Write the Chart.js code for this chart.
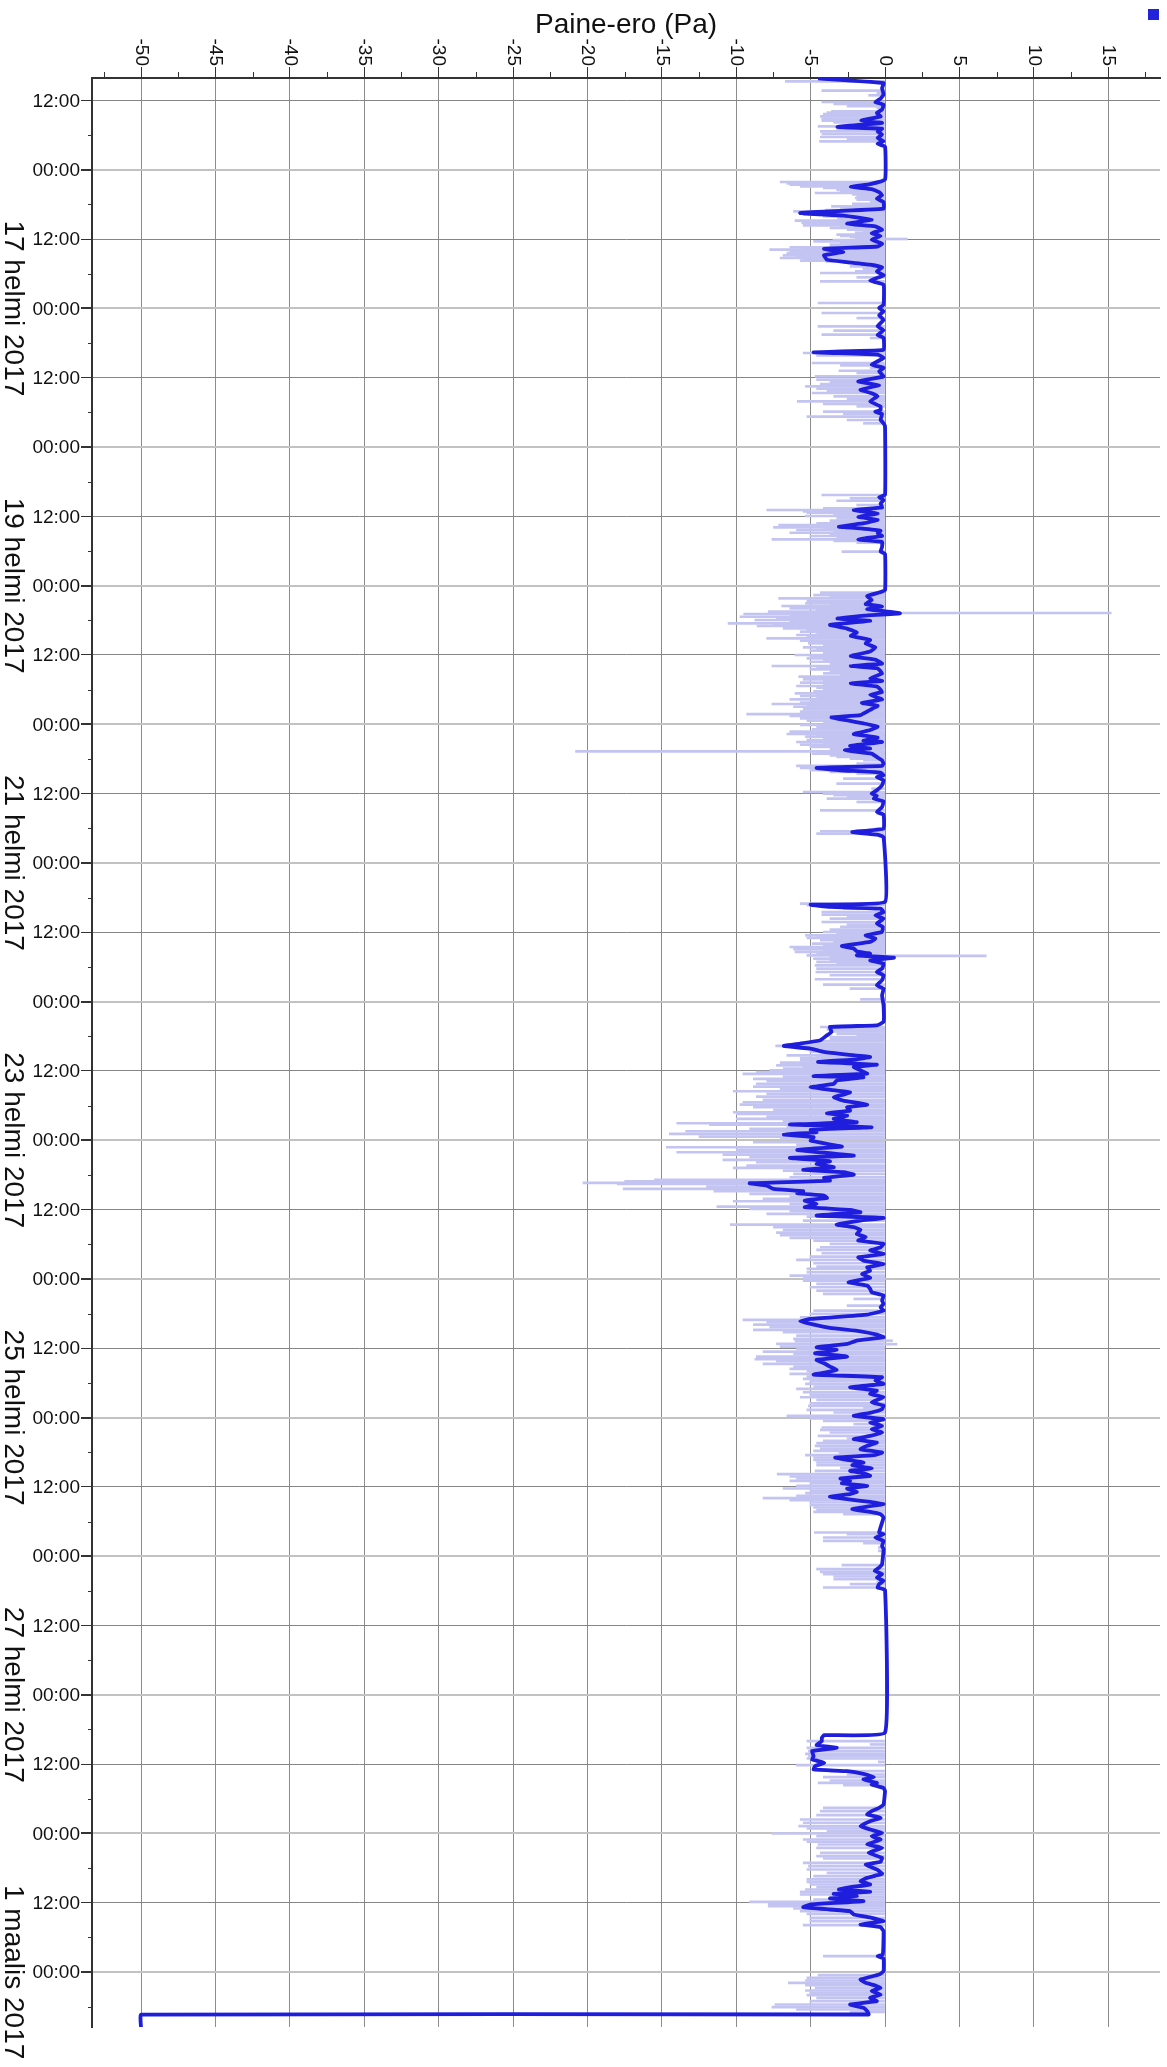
<!DOCTYPE html>
<html><head><meta charset="utf-8">
<script src="https://cdn.jsdelivr.net/npm/chart.js@4.4.1/dist/chart.umd.min.js"></script>
<style>html,body{margin:0;padding:0;background:#fff}#wrap{width:1167px;height:2067px}</style>
</head><body><div id="wrap"><canvas id="c" width="1167" height="2067"></canvas></div>
<script>
// time = hours since 15 Feb 2017 00:00 ; value = pressure difference (Pa)
const smoothPts = [
[8.2,-4.5],[9.0,-0.1],[9.9,-0.2],[11.0,-0.1],[11.7,-0.3],[12.3,-0.65],[12.75,-0.1],[13.6,-0.2],[14.2,-0.55],[14.8,-0.3],
[15.5,-1.6],[15.9,-0.2],[16.6,-3.2],[16.9,-0.2],[17.4,-0.5],[17.9,-0.2],[18.5,-0.5],[19.1,-0.1],[19.5,-0.5],[20.0,0],
[25.7,0],[26.5,-1.0],[27.0,-2.3],[27.35,-0.9],[27.9,-0.4],[28.4,-0.2],[29.0,-0.55],[29.6,-0.1],[30.75,-0.1],[31.5,-5.7],
[31.95,-2.8],[32.65,-0.9],[33.35,-2.55],[33.8,-0.65],[34.4,-0.2],[35.0,-0.9],[35.5,-0.3],[36.1,-0.9],[36.8,-0.2],[37.3,-0.5],
[37.7,-4.1],[38.25,-2.8],[38.8,-4.1],[39.6,-3.9],[40.0,-2.55],[40.45,-1.0],[40.9,-0.2],[41.6,-0.55],[42.3,-0.1],[43.2,-1.0],
[43.9,-0.1],[47.4,-0.1],[47.95,-0.4],[48.5,-0.1],[49.2,-0.4],[50.0,-0.1],[51.1,-0.5],[51.8,-0.1],[52.6,-0.5],[53.1,-0.1],
[55.2,-0.1],[55.6,-4.8],[56.0,-0.5],[56.6,-0.1],[57.75,-0.9],[58.3,-0.1],[58.9,-0.4],[59.8,-0.1],[60.65,-1.8],[61.3,-0.4],
[62.1,-1.65],[62.7,-0.9],[63.2,-0.5],[64.1,-1.0],[65.0,-0.3],
[65.6,-0.3],[65.9,-0.65],[66.3,-0.2],[67.3,-0.3],[67.9,-0.1],[68.5,0],[80.3,0],[80.7,-0.4],[81.2,-0.1],[81.8,-0.3],
[82.45,-0.2],[82.9,-2.1],[83.5,-0.5],[84.1,-1.8],[84.6,-0.5],[85.2,-1.4],[85.8,-3.1],[86.1,-1.65],[86.5,-0.3],[86.95,-0.5],
[87.4,-0.2],[88.0,-1.8],[88.4,-0.2],[89.3,-0.2],[90.1,-0.3],[90.5,0],[96.8,0],[97.2,-0.4],[97.8,-1.2],[98.5,-0.9],
[99.2,-1.3],[99.6,-0.2],[100.1,-1.2],[100.4,-0.1],[100.8,1.0],[101.2,-1.4],[101.7,-3.2],[102.1,-1.0],[102.8,-3.7],[103.4,-2.6],
[104.1,-1.9],[104.7,-2.3],[105.4,-1.0],[106.0,-1.3],[106.7,-0.65],[107.4,-1.0],[108.2,-2.3],[108.8,-0.65],[109.5,-0.2],[109.9,-2.3],
[110.3,-0.5],[111.2,-0.2],[112.05,-1.0],[112.5,-0.2],[112.9,-2.3],[113.5,-0.5],[114.4,-0.2],[114.9,-1.0],[115.7,-0.2],[116.3,-1.55],
[116.8,-0.5],[117.5,-1.0],[118.4,-1.65],[118.8,-3.6],[119.3,-2.6],[119.85,-1.45],[120.4,-0.5],[121.0,-1.0],[121.7,-2.1],[122.3,-0.5],
[122.85,-1.45],
[123.06,-0.2],[123.75,-2.35],[124.21,-1.0],[124.5,-2.7],[125.08,-0.9],[125.66,-0.55],[126.23,-0.2],[126.81,-0.1],[127.21,-0.2],[127.56,-4.6],
[127.96,-3.0],[128.37,-0.3],[128.83,-0.1],[129.12,-0.55],[129.7,-0.1],[130.56,-0.2],[131.43,-0.55],[132.0,-0.9],[132.41,-0.55],[132.87,-0.75],
[133.33,-0.1],[134.31,-0.2],[135.18,-0.55],[135.64,-0.1],[138.06,-0.1],[138.64,-2.2],[139.1,-0.55],[139.5,-0.1],[150.76,0],[151.22,-5.0],
[151.62,-3.7],[151.91,-0.3],[152.49,-0.1],[153.07,-0.65],[153.64,-0.1],[154.5,-0.55],[155.08,-0.15],[155.95,-0.2],[156.53,-1.3],[157.1,-0.65],
[157.68,-1.0],[158.37,-2.9],[158.84,-2.1],[159.3,-1.9],[159.7,-1.0],[159.99,-1.9],[160.39,0.6],[160.86,-1.0],[161.43,-0.1],[162.3,-0.2],
[162.88,-0.55],[163.45,-0.1],[164.32,-0.2],[165.18,-0.55],[165.76,-0.1],[166.91,-0.2],[168.65,-0.1],[171.53,-0.1],[172.11,-0.55],[172.4,-3.7],
[173.26,-3.6],[173.84,-3.9],[174.7,-4.35],[175.28,-5.7],[175.68,-6.8],[176.15,-5.0],[176.72,-4.1],[177.19,-2.55],[177.59,-1.0],[178.0,-1.9],
[178.46,-4.5],[178.92,-0.55],[179.32,-2.1],[179.9,-1.65],[180.48,-1.2],
[180.9,-4.8],[181.1,-1.45],[181.67,-3.25],[182.25,-3.45],[182.83,-5.0],[183.4,-3.25],[183.7,-2.35],[184.1,-2.8],[184.56,-3.45],[185.14,-2.8],
[185.83,-1.2],[186.29,-2.55],[186.87,-2.35],[187.33,-3.9],[187.73,-2.55],[188.31,-3.45],[188.89,-1.9],[189.29,-6.4],[189.75,-0.9],[190.21,-5.0],
[190.62,-4.6],[191.02,-6.8],[191.48,-4.8],[192.06,-5.0],[192.64,-3.9],[193.1,-2.9],[193.68,-5.9],[194.25,-3.7],[194.66,-2.1],[195.06,-6.4],
[195.64,-3.7],[196.1,-4.6],[196.68,-3.45],[197.14,-5.5],[197.54,-2.8],[197.95,-2.1],[198.52,-4.1],[198.99,-3.7],[199.45,-9.1],[199.85,-7.95],
[200.43,-7.5],[200.83,-5.5],[201.18,-5.9],[201.58,-4.1],[201.99,-3.9],[202.45,-5.4],[203.02,-4.6],[203.6,-5.4],[204.06,-2.35],[204.47,-1.65],
[205.04,-4.6],[205.45,-0.1],[205.91,-1.65],[206.6,-3.25],[207.06,-2.1],[207.52,-1.65],[208.22,-1.9],[208.79,-1.3],[209.37,-1.8],[209.95,-0.1],
[210.53,-0.3],[211.1,-1.0],[211.68,-0.1],[212.26,-1.8],[212.83,-1.45],[213.41,-0.1],[213.99,-1.2],[214.56,-1.0],[215.14,-1.55],[215.83,-1.0],
[216.58,-2.45],[217.16,-1.2],[217.74,-1.0],[218.32,-0.9],[218.89,-0.1],[219.76,-0.2],[220.34,-0.1],[220.91,-0.3],[221.49,-0.1],[222.18,-1.2],
[222.93,-5.0],[223.34,-5.7],[223.8,-5.0],[224.49,-3.7],[225.07,-1.65],[225.65,-0.55],[226.1,-0.1],[226.68,-1.9],[227.26,-2.55],[227.84,-4.6],
[228.3,-3.25],[228.88,-4.7],[229.45,-2.55],[230.03,-4.6],[230.61,-4.1],[231.18,-3.7],[231.76,-3.25],[232.16,-3.9],[232.57,-4.8],[233.03,-0.2],
[233.61,-0.65],[234.18,-0.1],[234.76,-2.35],[235.34,-0.55],[235.91,-1.0],[236.49,-0.1],[237.36,-0.9],[237.93,-0.1],
[238.56,-0.2],[239.13,-0.9],[239.71,-2.1],[240.29,-0.1],[240.87,-1.0],[241.44,-0.2],[242.02,-0.9],[242.6,-0.2],[243.17,-1.0],[243.75,-2.1],
[244.33,-0.55],[244.9,-1.2],[245.48,-1.65],[246.06,-0.2],[246.52,-0.75],[246.92,-3.35],[247.33,-2.55],[247.79,-1.45],[248.25,-2.2],[248.83,-0.9],
[249.23,-2.35],[249.64,-1.45],[250.1,-1.0],[250.56,-3.0],[250.96,-2.35],[251.37,-2.9],[251.83,-1.2],[252.29,-2.55],[252.87,-1.9],[253.27,-2.35],
[253.68,-3.7],[254.14,-2.55],[254.6,-1.0],[255.0,-0.1],[255.41,-1.2],[255.87,-2.2],[256.33,-1.0],[256.73,-0.3],[257.31,-0.1],[259.91,-0.4],
[260.2,-0.1],[260.77,-0.65],[261.35,-0.1],[262.22,-0.2],[262.79,-0.1],[265.39,-0.2],[265.97,-0.4],[266.54,-0.7],[267.12,-0.2],[267.7,-0.55],
[268.27,-0.1],[268.85,-0.4],[269.43,-0.5],[269.83,0],[294.53,0],[294.99,-4.1],
[295.44,-4.25],[296.02,-4.25],[296.71,-4.6],[297.17,-3.25],[297.75,-4.9],[298.61,-4.8],[299.19,-4.9],[299.77,-4.1],[300.34,-4.7],[300.92,-4.8],
[301.21,-2.55],[301.67,-1.45],[302.25,-0.75],[302.65,-1.45],[303.23,-0.55],[303.52,-0.9],[304.1,-0.1],[304.67,0],[306.98,-0.1],[307.56,-0.4],
[308.13,-0.9],[308.71,-1.2],[309.29,-0.3],[309.87,-1.0],[310.73,-1.65],[311.31,-1.0],[311.89,-0.2],[312.46,-0.9],[313.04,-0.3],[313.9,-1.2],
[314.48,-0.2],[315.35,-1.1],[316.21,-0.2],[316.91,-0.3],[317.37,-1.3],[318.23,-0.55],[318.98,-0.2],[319.68,-1.2],[320.25,-1.65],[320.83,-1.0],
[321.29,-2.35],[321.7,-3.1],[322.1,-1.0],[322.45,-3.45],[322.85,-1.9],[323.25,-3.7],[323.72,-1.45],[324.29,-5.0],[324.75,-5.5],[325.16,-3.7],
[325.45,-2.35],[326.02,-2.1],[326.6,-0.9],[327.18,-0.1],[327.75,-1.65],[328.22,-0.3],[328.91,-0.1],[332.95,-0.15],[333.24,-0.5],[333.64,-0.1],
[335.83,-0.1],[336.41,-0.4],[337.28,-1.65],[337.85,-1.3],[338.26,-0.75],[338.72,-0.3],[339.29,-0.9],[339.87,-0.3],[340.45,-1.0],[341.03,-0.55],
[341.6,-2.35],[342.18,-1.45],[342.76,-1.2],[343.34,-1.1],[343.36,-50],[345.8,-50]
];

const rawPts = [
[8.71,-6.7],[10.32,-4.25],[10.73,-0.55],[11.13,-1.1],[12.28,-4.25],[12.63,-3.45],[13.0,-2.55],[13.32,-0.55],[13.9,-3.6],[14.13,-3.9],
[14.36,-4.15],[14.77,-4.35],[15.17,-4.25],[15.52,-4.25],[15.8,-3.45],[16.09,-1.45],[16.5,-4.5],[16.9,-3.25],[17.36,-4.35],[17.82,-4.25],
[18.34,-4.35],[18.75,-2.55],[19.09,-4.4],
[26.13,-7.05],[26.36,-6.6],[26.6,-6.4],[26.75,-3.0],[26.88,-5.7],[27.17,-4.15],[27.35,-2.5],[27.52,-3.25],[27.8,-3.0],[28.04,-4.7],
[28.3,-2.2],[28.61,-1.9],[28.9,-2.0],[29.19,-1.9],[29.6,-1.0],[29.9,-2.2],[30.35,-3.6],[30.6,-3.0],[30.8,-2.55],[31.0,-4.0],
[31.21,-6.15],[31.35,-5.0],[31.5,-5.7],[31.65,-4.5],[31.79,-5.5],[31.95,-3.5],[32.08,-4.15],[32.2,-2.5],[32.37,-1.9],[32.6,-3.2],
[32.83,-6.05],[33.05,-4.0],[33.23,-5.6],[33.4,-4.5],[33.63,-5.5],[33.85,-3.0],[34.1,-3.7],[34.38,-2.55],[34.67,-1.45],[34.9,-2.0],
[35.25,-3.25],[35.45,-3.0],[35.65,-2.35],[35.9,-2.0],[36.0,1.5],[36.2,-3.5],[36.4,-4.8],[36.7,-3.0],[36.98,-3.7],[37.2,-3.5],
[37.44,-6.4],[37.65,-5.5],[37.85,-7.75],[38.0,-5.0],[38.14,-6.4],[38.3,-5.0],[38.42,-6.6],[38.6,-5.5],[38.83,-6.85],[38.95,-5.0],
[39.06,-5.7],[39.15,-6.0],[39.29,-7.05],[39.45,-5.5],[39.6,-5.0],[39.75,-5.7],[39.9,-4.0],[40.16,-2.55],[40.4,-2.0],[40.73,-2.35],
[41.0,-1.5],[41.31,-1.45],[41.6,-2.0],[41.89,-4.35],[42.64,-1.9],[43.33,-4.35],
[47.08,-4.5],[48.81,-4.25],[49.68,-1.9],[51.12,-4.5],[51.87,-3.45],[52.56,-4.25],[53.14,-1.0],[55.73,-5.5],[56.14,-4.6],[57.47,-4.9],
[57.87,-3.0],[58.33,-1.0],[58.8,-3.1],[59.2,-1.9],[59.78,-4.7],[60.35,-4.6],[60.76,-3.7],[61.1,-4.35],[61.51,-5.35],[61.91,-4.6],
[62.37,-3.9],[62.66,-4.9],[63.24,-3.45],[63.64,-2.55],[64.1,-5.9],[64.56,-4.15],[64.97,-1.9],
[65.89,-4.15],[66.29,-2.8],[66.75,-5.25],[67.33,-2.55],[67.91,-1.45],
[80.31,-4.25],[80.89,-2.35],[81.3,-3.25],[82.05,-1.9],[82.62,-4.15],[82.91,-7.95],[83.14,-5.5],[83.37,-5.25],[83.6,-3.45],[83.95,-5.35],
[84.35,-3.25],[84.76,-3.7],[85.22,-4.6],[85.51,-7.15],[85.91,-7.5],[86.14,-4.15],[86.37,-5.95],[86.6,-3.45],[86.84,-6.4],[87.12,-3.7],
[87.41,-5.05],[87.7,-3.25],[87.99,-7.6],[88.28,-3.45],[88.57,-1.9],[90.12,-2.9],
[97.22,-4.35],[97.63,-4.8],[97.91,-3.7],[98.2,-7.15],[98.61,-5.25],[98.84,-4.15],[99.07,-5.35],[99.3,-3.7],[99.53,-6.95],[99.93,-6.4],
[100.22,-4.6],[100.51,-7.85],[100.74,15.2],[100.91,-9.5],[101.15,-6.4],[101.38,-9.75],[101.66,-7.3],[101.95,-8.75],[102.24,-6.4],[102.53,-10.55],
[102.76,-7.5],[102.99,-8.6],[103.22,-5.7],[103.4,-6.85],[103.68,-5.25],[103.97,-5.7],[104.26,-4.6],[104.55,-5.95],[104.84,-5.25],[105.13,-7.95],
[105.53,-5.7],[105.76,-5.05],[105.99,-5.15],[106.34,-4.15],[106.68,-5.5],[106.97,-4.6],[107.26,-5.05],[107.61,-4.15],[108.01,-6.05],[108.3,-5.05],
[108.59,-5.25],[108.88,-4.15],[109.17,-5.05],[109.57,-3.7],[109.92,-7.6],[110.21,-4.6],[110.49,-5.05],[110.84,-3.7],[111.19,-4.15],[111.47,-3.0],
[111.76,-5.8],[111.99,-4.6],[112.22,-5.5],[112.51,-4.15],[112.8,-5.7],[113.09,-4.15],[113.38,-5.95],[113.67,-4.6],[113.96,-4.15],[114.3,-4.8],
[114.65,-6.05],[114.88,-4.6],[115.11,-5.7],[115.4,-4.6],[115.69,-6.4],[115.98,-5.05],[116.26,-5.7],[116.49,-7.6],[116.73,-5.25],[116.96,-6.15],
[117.19,-4.6],[117.42,-5.5],[117.82,-5.7],[118.23,-9.3],[118.57,-6.4],[118.98,-5.7],[119.38,-5.25],[119.73,-4.15],[120.13,-5.7],[120.53,-4.6],
[120.88,-4.9],[121.28,-6.4],[121.69,-6.6],[121.92,-4.6],[122.15,-5.35],[122.44,-4.15],[122.73,-5.25],[123.02,-4.6],
[123.06,-5.95],[123.35,-4.15],[123.52,-5.7],[123.75,-3.45],[123.93,-5.05],[124.21,-3.7],[124.68,-20.8],[124.91,-4.6],[125.08,-4.9],[125.37,-3.7],
[125.66,-3.25],[125.95,-2.35],[126.23,-1.45],[126.81,-1.9],[127.21,-5.95],[127.56,-5.7],[127.96,-5.05],[128.25,-3.7],[128.54,-1.9],[129.41,-2.8],
[130.27,-3.25],[131.14,-0.9],[131.72,-5.5],[132.0,-4.15],[132.29,-3.45],[132.58,-2.55],[132.87,-3.9],[133.45,-1.9],[134.89,-4.35],[135.47,-0.55],
[138.52,-4.35],[138.93,-4.6],
[151.05,-5.7],[151.33,-5.25],[151.91,-2.8],[152.49,-4.25],[152.95,-4.25],[153.35,-2.55],[153.64,-3.7],[154.22,-4.25],[154.68,-2.55],[155.08,-3.0],
[155.55,-3.7],[155.95,-4.15],[156.3,-3.25],[156.53,-5.35],[156.82,-4.6],[156.99,-5.25],[157.22,-3.7],[157.39,-4.35],[157.68,-3.45],[157.97,-4.9],
[158.26,-4.15],[158.55,-6.4],[158.72,-4.6],[158.95,-6.15],[159.18,-4.15],[159.41,-6.05],[159.7,-4.6],[159.99,-5.25],[160.1,6.8],[160.28,-3.7],
[160.57,-4.8],[160.86,-3.7],[161.14,-4.6],[161.43,-3.25],[161.72,-4.7],[162.3,-4.6],[162.88,-4.65],[163.45,-3.7],[164.14,-4.7],[165.07,-4.15],
[165.76,-2.35],[167.61,-1.65],
[172.4,-4.35],[172.68,-3.45],[172.8,-3.9],[173.15,-3.7],[173.55,-3.25],[173.84,-1.9],[174.13,-3.7],[174.42,-3.7],[174.82,-4.6],[175.28,-5.7],
[175.68,-7.35],[176.03,-5.95],[176.44,-4.6],[176.72,-5.05],[177.01,-4.15],[177.3,-6.6],[177.59,-4.6],[177.76,-5.7],[178.17,-5.7],[178.34,-3.7],
[178.57,-7.05],[178.8,-5.25],[179.03,-7.3],[179.32,-5.5],[179.61,-6.85],[179.9,-7.75],[180.19,-8.65],[180.48,-6.85],
[180.52,-9.55],[180.98,-6.85],[181.39,-8.85],[181.79,-7.95],[182.25,-8.65],[182.71,-8.85],[183.12,-7.05],[183.52,-10.2],[183.98,-7.95],[184.44,-8.65],
[185.02,-8.2],[185.42,-9.55],[185.83,-9.75],[186.29,-8.85],[186.75,-7.5],[187.16,-10.2],[187.44,-10.0],[187.91,-7.95],[188.31,-10.0],[188.71,-6.85],
[189.06,-14.0],[189.29,-11.8],[189.64,-6.6],[190.04,-9.1],[190.45,-13.4],[190.91,-14.5],[191.37,-12.5],[191.77,-7.05],[192.35,-8.85],[192.75,-5.95],
[193.21,-14.7],[193.68,-10.0],[194.08,-14.0],[194.48,-10.9],[194.95,-9.1],[195.41,-10.9],[195.81,-8.65],[196.39,-9.3],[196.79,-10.2],[197.25,-6.85],
[197.83,-6.15],[198.41,-6.4],[198.87,-15.5],[199.1,-17.5],[199.39,-20.3],[199.56,-18.0],[200.02,-12.0],[200.43,-17.6],[200.83,-11.5],[201.29,-9.1],
[201.75,-6.4],[202.16,-8.2],[202.56,-10.2],[203.02,-6.4],[203.49,-11.3],[203.89,-9.1],[204.29,-6.4],[204.76,-7.95],[205.22,-5.25],[205.91,-5.5],
[206.6,-10.4],[207.06,-7.5],[207.52,-6.85],[207.99,-7.3],[208.45,-7.05],[208.91,-6.4],[209.37,-4.8],[209.95,-3.7],[210.53,-4.35],[210.99,-4.6],
[211.56,-4.25],[212.14,-5.05],[212.72,-5.95],[213.3,-4.8],[213.87,-4.6],[214.28,-5.25],[214.85,-5.25],[215.43,-6.4],[215.83,-5.5],[216.3,-5.5],
[216.87,-4.6],[217.45,-5.05],[218.03,-4.6],[218.6,-4.15],[219.47,-2.1],[220.62,-2.55],[221.49,-4.8],[222.07,-5.05],[222.64,-5.7],[223.11,-9.55],
[223.51,-7.95],[223.91,-8.85],[224.37,-7.75],[224.84,-8.85],[225.24,-6.85],[225.82,-5.95],[226.39,-6.15],[226.7,0.5],[226.8,-6.05],[227.26,-7.3],
[227.3,0.8],[227.72,-7.05],[228.13,-5.95],[228.59,-8.2],[228.99,-6.15],[229.45,-8.65],[229.91,-8.75],[230.26,-7.3],[230.72,-8.2],[231.18,-6.15],
[231.59,-6.4],[231.99,-5.25],[232.45,-6.4],[232.91,-5.25],[233.32,-5.5],[233.72,-5.05],[234.18,-5.35],[234.65,-4.8],[235.05,-5.95],[235.63,-5.5],
[236.03,-5.05],[236.49,-5.7],[236.95,-4.6],[237.53,-5.05],[237.93,-4.8],
[237.98,-5.15],[238.27,-1.45],[238.67,-5.25],[239.13,-3.45],[239.71,-6.6],[240.17,-5.05],[240.58,-4.15],[241.15,-2.1],[241.73,-4.25],[242.13,-4.35],
[242.6,-3.7],[243.17,-4.5],[243.63,-2.55],[244.04,-4.15],[244.44,-4.6],[244.9,-4.7],[245.37,-4.35],[245.77,-4.8],[246.17,-3.1],[246.52,-5.35],
[246.92,-4.8],[247.33,-4.8],[247.79,-4.6],[248.25,-4.6],[248.71,-3.0],[249.23,-4.7],[249.81,-7.25],[250.21,-6.4],[250.56,-5.95],[250.96,-6.4],
[251.37,-5.05],[251.83,-5.95],[252.29,-6.85],[252.69,-5.05],[253.1,-5.35],[253.56,-5.95],[253.96,-8.2],[254.31,-6.4],[254.71,-5.05],[255.18,-5.05],
[255.58,-4.8],[255.98,-4.6],[256.33,-4.8],[256.73,-2.8],[259.91,-4.75],[260.2,-2.55],[260.77,-4.15],[261.35,-4.15],[261.75,-1.45],[262.5,-0.45],
[263.08,-0.45],[265.56,-2.9],[266.25,-4.6],[266.72,-4.35],[267.12,-4.15],[267.52,-3.45],[267.99,-3.45],[268.45,-0.55],[268.85,-2.35],[269.43,-4.15],
[296.02,-5.25],[296.59,-1.0],[297.17,-5.25],[297.75,-5.15],[298.21,-5.35],[298.61,-5.15],[299.02,-5.25],[299.59,-0.45],[300.17,-5.95],[301.21,-3.7],
[301.79,-2.55],[302.25,-4.15],[302.83,-3.7],[303.23,-4.5],[303.63,-2.8],[307.56,-4.15],[308.13,-4.35],[308.83,-4.6],[309.58,-5.7],[310.15,-5.5],
[310.73,-5.8],[311.14,-5.25],[311.6,-3.9],[312.0,-7.6],[312.46,-4.6],[313.04,-5.5],[313.44,-5.25],[313.91,-4.5],[314.48,-4.6],[315.35,-4.35],
[315.92,-4.6],[316.33,-4.15],[317.08,-5.5],[317.66,-5.15],[318.23,-5.25],[318.81,-3.9],[319.39,-4.8],[319.96,-5.25],[320.37,-5.25],[320.83,-5.05],
[321.29,-4.6],[321.7,-5.35],[322.1,-5.7],[322.56,-5.7],[323.02,-3.7],[323.43,-4.8],[323.83,-9.1],[324.18,-7.85],[324.58,-7.85],[324.98,-6.15],
[325.45,-5.7],[325.91,-5.25],[326.6,-5.05],[327.18,-5.05],[327.87,-5.5],[333.24,-4.15],[336.52,-4.5],[336.99,-5.25],[337.45,-5.35],[337.85,-6.5],
[338.26,-5.35],[338.72,-4.7],[339.18,-5.35],[339.58,-5.05],[339.99,-5.25],[340.45,-4.6],[341.03,-5.05],[341.6,-7.4],[342.07,-7.6],[342.47,-5.95],
[342.87,-2.35]
];

const dateHours = [48, 96, 144, 192, 240, 288, 336];
const dateLabels = ['17 helmi 2017', '19 helmi 2017', '21 helmi 2017', '23 helmi 2017', '25 helmi 2017', '27 helmi 2017', '1 maalis 2017'];
const timeLabels = {0: '00:00', 12: '12:00'};
const axisTitle = 'Paine-ero (Pa)';

const FONT = '"Liberation Sans", Arial, Helvetica, sans-serif';
const PLOT = {left: 92, top: 78, right: 1160, bottom: 2027};

const tv = c => (c && c.tick) ? c.tick.value : null;
const isMajorX = v => v !== null && Math.abs(v % 5) < 0.01;
const hr = v => v === null ? -1 : ((Math.round(v) % 24) + 24) % 24;

const decor = {
  id: 'decor',
  afterDraw(chart) {
    const ctx = chart.ctx, xs = chart.scales.x, ys = chart.scales.y, a = chart.chartArea;
    ctx.save();
    ctx.strokeStyle = '#333'; ctx.lineWidth = 1;
    xs.ticks.forEach(t => {
      if (!isMajorX(t.value)) {
        const px = Math.round(xs.getPixelForValue(t.value)) + 0.5;
        ctx.beginPath(); ctx.moveTo(px, a.top - 6); ctx.lineTo(px, a.top); ctx.stroke();
      }
    });
    ys.ticks.forEach(t => {
      if (hr(t.value) % 12 !== 0) {
        const py = Math.round(ys.getPixelForValue(t.value)) + 0.5;
        ctx.beginPath(); ctx.moveTo(a.left - 4, py); ctx.lineTo(a.left, py); ctx.stroke();
      }
    });
    ctx.fillStyle = '#111';
    ctx.font = '19px ' + FONT;
    xs.ticks.forEach(t => {
      if (isMajorX(t.value)) {
        const px = xs.getPixelForValue(t.value);
        ctx.save(); ctx.translate(px, a.top - 12); ctx.rotate(Math.PI / 2);
        ctx.textAlign = 'right'; ctx.textBaseline = 'middle';
        ctx.fillText(String(Math.round(t.value)), 0, 0);
        ctx.restore();
      }
    });
    ctx.textAlign = 'right'; ctx.textBaseline = 'middle';
    ys.ticks.forEach(t => {
      const lab = timeLabels[hr(t.value)];
      if (lab) ctx.fillText(lab, a.left - 12, ys.getPixelForValue(t.value) + 1);
    });
    ctx.font = '28px ' + FONT;
    dateHours.forEach((h, i) => {
      const py = ys.getPixelForValue(h);
      ctx.save(); ctx.translate(5, py); ctx.rotate(Math.PI / 2);
      ctx.textAlign = 'center'; ctx.textBaseline = 'alphabetic';
      ctx.fillText(dateLabels[i], 0, 0);
      ctx.restore();
    });
    ctx.font = '28px ' + FONT;
    ctx.textAlign = 'center'; ctx.textBaseline = 'middle';
    ctx.fillText(axisTitle, (a.left + a.right) / 2, 25);
    ctx.fillStyle = '#2222dd';
    ctx.fillRect(1148, 9, 11, 11);
    ctx.restore();
  }
};

new Chart(document.getElementById('c'), {
  type: 'bar',
  data: {
    datasets: [
      {
        type: 'line', label: 'Paine-ero', indexAxis: 'y', order: 0,
        data: smoothPts.map(p => ({x: p[1], y: p[0]})),
        borderColor: '#1e1edc', borderWidth: 3.8, pointRadius: 0, tension: 0.1,
        fill: false, borderJoinStyle: 'round'
      },
      {
        type: 'bar', label: 'raaka', indexAxis: 'y', order: 1,
        data: rawPts.map(p => ({x: p[1], y: p[0]})),
        backgroundColor: 'rgb(196,196,243)', borderWidth: 0, barThickness: 2, grouped: false
      }
    ]
  },
  options: {
    responsive: false, animation: false, devicePixelRatio: 1, indexAxis: 'y',
    layout: {padding: {left: 0, top: 0, right: 1167 - PLOT.right, bottom: 2067 - PLOT.bottom}},
    plugins: {legend: {display: false}, tooltip: {enabled: false}, title: {display: false}},
    scales: {
      x: {
        type: 'linear', position: 'top', min: -53.3, max: 18.48, offset: false,
        afterFit: s => { s.height = PLOT.top; },
        ticks: {display: false, stepSize: 2.5, includeBounds: false, autoSkip: false},
        grid: {
          offset: false,
          color: c => isMajorX(tv(c)) ? '#8c8c8c' : 'rgba(0,0,0,0)',
          tickColor: c => isMajorX(tv(c)) ? '#333' : 'rgba(0,0,0,0)',
          tickLength: 11, lineWidth: 1
        },
        border: {display: true, color: '#333', width: 2}
      },
      y: {
        type: 'linear', reverse: true, min: 8.13, max: 345.5, offset: false,
        afterFit: s => { s.width = PLOT.left; },
        ticks: {display: false, stepSize: 6, includeBounds: false, autoSkip: false},
        grid: {
          offset: false,
          color: c => hr(tv(c)) === 0 ? '#c2c2c2' : (hr(tv(c)) === 12 ? '#858585' : 'rgba(0,0,0,0)'),
          lineWidth: c => hr(tv(c)) === 0 ? 2 : 1,
          tickColor: c => (hr(tv(c)) === 0 || hr(tv(c)) === 12) ? '#333' : 'rgba(0,0,0,0)',
          tickLength: 11
        },
        border: {display: true, color: '#333', width: 2}
      }
    }
  },
  plugins: [decor]
});
</script>
</body></html>
